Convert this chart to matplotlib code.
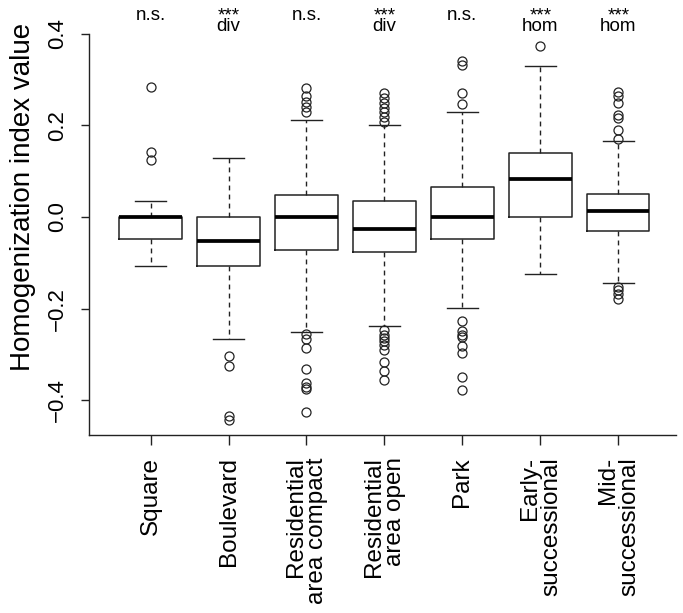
import matplotlib
matplotlib.use("Agg")
import matplotlib.pyplot as plt
import matplotlib.transforms as mtransforms

plt.rcParams['font.family'] = ['Liberation Sans', 'DejaVu Sans']

categories = ["Square", "Boulevard", "Residential\narea compact", "Residential\narea open",
              "Park", "Early-\nsuccessional", "Mid-\nsuccessional"]
medians = [0.0, -0.053, 0.0, -0.026, 0.0, 0.082, 0.013]
q1 = [-0.048, -0.108, -0.072, -0.077, -0.048, 0.0, -0.030]
q3 = [0.0, 0.0, 0.047, 0.035, 0.065, 0.140, 0.049]
whislo = [-0.108, -0.265, -0.250, -0.237, -0.199, -0.125, -0.143]
whishi = [0.035, 0.128, 0.212, 0.200, 0.228, 0.330, 0.165]
fliers = [
    [0.284, 0.142, 0.124],
    [-0.304, -0.325, -0.434, -0.443],
    [0.282, 0.264, 0.250, 0.240, 0.229, -0.255, -0.266, -0.285, -0.332, -0.363, -0.370, -0.375, -0.426],
    [0.271, 0.259, 0.248, 0.238, 0.228, 0.217, 0.206, -0.247, -0.257, -0.264, -0.271, -0.280,
     -0.290, -0.317, -0.335, -0.355],
    [0.341, 0.332, 0.270, 0.247, -0.226, -0.248, -0.257, -0.262, -0.281, -0.297, -0.348, -0.377],
    [0.372],
    [0.273, 0.264, 0.248, 0.222, 0.215, 0.190, 0.171, -0.153, -0.160, -0.169, -0.179],
]
significance = ["n.s.", "***", "n.s.", "***", "n.s.", "***", "***"]
direction = ["", "div", "", "div", "", "hom", "hom"]
yticks = [-0.4, -0.2, 0.0, 0.2, 0.4]
ylabel = "Homogenization index value"

W, H = 683, 613
fig = plt.figure(figsize=(W / 100, H / 100), dpi=100)
ax = fig.add_axes([89 / W, 1 - 435 / H, (676 - 89) / W, (435 - 33.5) / H])

stats = []
for i in range(len(categories)):
    stats.append(dict(med=medians[i], q1=q1[i], q3=q3[i], whislo=whislo[i],
                      whishi=whishi[i], fliers=fliers[i]))

positions = list(range(1, len(categories) + 1))
ax.bxp(stats, positions=positions, widths=0.8, showfliers=True,
       boxprops=dict(color='#222222', linewidth=1.1),
       medianprops=dict(color='black', linewidth=2.7, solid_capstyle='butt'),
       whiskerprops=dict(color='#222222', linewidth=1.0, linestyle=(0, (3.5, 3.0))),
       capprops=dict(color='#222222', linewidth=1.0),
       flierprops=dict(marker='o', markersize=6.5, markerfacecolor='none',
                       markeredgecolor='#222222', markeredgewidth=0.9, linestyle='none'),
       capwidths=0.4)

ax.set_xlim(0.21, 7.74)
ax.set_ylim(-0.4754, 0.4)
ax.spines['top'].set_visible(False)
ax.spines['right'].set_visible(False)
for s in ('left', 'bottom'):
    ax.spines[s].set_color('#222222')
    ax.spines[s].set_linewidth(1.0)

ax.set_yticks(yticks)
ax.set_yticklabels([f"{v:.1f}".replace('-', '\u2212') for v in yticks], fontsize=16)
for lab in ax.get_yticklabels():
    lab.set_rotation(90)
    lab.set_va('center')
ax.tick_params(axis='y', length=6, width=1.0, color='#222222', pad=9)

ax.set_xticks(positions)
ax.set_xticklabels(categories, fontsize=17.5, rotation=90, ma='right', linespacing=0.95)
ax.tick_params(axis='x', length=7, width=1.0, color='#222222', pad=9)

ax.set_ylabel(ylabel, fontsize=20)
ax.yaxis.set_label_coords((36 - 89) / ((676 - 89)), (435 - 197) / (435 - 33.5))

trans = mtransforms.blended_transform_factory(ax.transData, fig.transFigure)
for i, (sg, d) in enumerate(zip(significance, direction)):
    x = positions[i]
    if d == "":
        ax.text(x, 1 - 20 / H, sg, transform=trans, ha='center', va='baseline', fontsize=13.5)
    else:
        ax.text(x, 1 - 31 / H, sg + "\n" + d, transform=trans, ha='center', ma='center',
                va='baseline', fontsize=13.5, linespacing=0.5)

fig.savefig("out.png", dpi=100)
